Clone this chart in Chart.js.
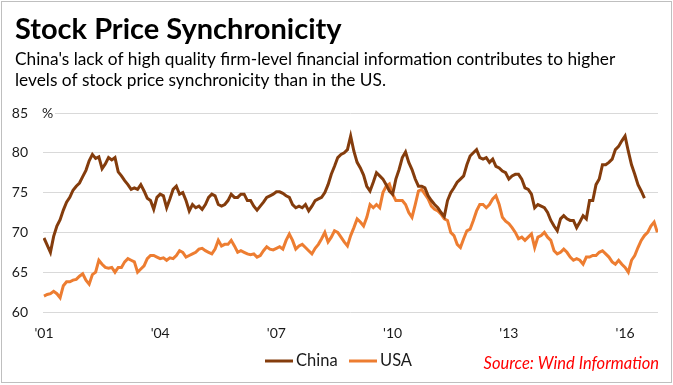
<!DOCTYPE html>
<html>
<head>
<meta charset="utf-8">
<script src="https://cdn.jsdelivr.net/npm/chart.js@4.4.1/dist/chart.umd.min.js"></script>
<style>
  html, body { margin:0; padding:0; background:#fff; }
  canvas { display:block; }
</style>
</head>
<body>
<canvas id="c" width="673" height="385"></canvas>
<script>
/* Stock price synchronicity — China vs USA, monthly, Jan 2001 onward */

// ── Data ──────────────────────────────────────────────────────────────────
const seriesNames = ['China', 'USA'];

// month index 0 = Jan 2001
const xTickMonths = [0, 36, 72, 108, 144, 180];
const xTickLabels = ["'01", "'04", "'07", "'10", "'13", "'16"];
const yTicks = [60, 65, 70, 75, 80, 85];

const china = [
  69.3, 68.4, 67.5, 69.5, 70.8, 71.6, 72.8, 73.8, 74.4, 75.3, 75.8, 76.2,
  77.0, 77.8, 79.0, 79.8, 79.3, 79.5, 78.0, 78.6, 79.4, 79.1, 79.4, 77.6,
  77.1, 76.5, 76.0, 75.4, 75.6, 75.4, 76.0, 75.2, 74.3, 74.0, 72.9, 74.4,
  74.8, 74.6, 73.1, 74.2, 75.4, 75.8, 74.8, 75.0, 74.0, 72.7, 73.5, 73.1,
  73.3, 72.9, 73.5, 74.4, 74.8, 74.6, 73.5, 73.3, 73.5, 74.0, 74.8, 74.4,
  74.4, 74.8, 74.8, 74.0, 74.0, 73.3, 72.8, 73.3, 73.8, 74.4, 74.6, 74.8,
  75.1, 75.1, 74.9, 74.6, 74.4, 73.5, 73.1, 73.3, 73.1, 73.5, 72.7, 73.3,
  74.0, 74.2, 74.4, 75.0, 76.0, 77.3, 78.3, 79.4, 79.8, 80.0, 80.4, 82.1,
  80.2, 78.8, 78.1, 77.2, 75.8, 75.2, 76.3, 77.5, 77.1, 76.7, 76.0, 75.2,
  74.8, 76.7, 77.9, 79.4, 80.1, 78.8, 77.9, 76.7, 75.8, 75.8, 75.6, 74.6,
  74.0, 73.5, 73.1, 72.5, 72.0, 74.0, 75.0, 75.6, 76.3, 76.7, 77.1, 78.5,
  79.6, 80.0, 80.4, 79.4, 79.2, 79.4, 78.8, 79.2, 78.3, 78.1, 77.7, 77.5,
  76.7, 77.1, 77.3, 77.3, 76.7, 75.6, 75.4, 74.8, 73.1, 73.5, 73.3, 73.1,
  72.5, 71.5, 70.8, 70.2, 71.7, 72.1, 71.7, 71.5, 71.5, 70.6, 71.3, 72.1,
  71.7, 74.0, 74.0, 76.0, 76.7, 78.5, 78.5, 78.8, 79.2, 80.4, 80.8, 81.5,
  82.1, 80.2, 78.5, 77.3, 76.0, 75.2, 74.3
];

const usa = [
  62.0, 62.2, 62.3, 62.6, 62.3, 61.8, 63.3, 63.8, 63.8, 64.0, 64.1, 64.5,
  64.8, 64.0, 63.5, 64.7, 65.0, 66.5, 66.0, 65.6, 65.5, 65.6, 65.0, 65.6,
  65.6, 66.3, 66.7, 66.5, 66.3, 65.0, 65.4, 65.8, 66.7, 67.1, 67.1, 66.9,
  66.7, 66.8, 66.5, 66.8, 66.7, 67.1, 67.7, 67.5, 66.9, 67.1, 67.3, 67.5,
  67.9, 68.0, 67.7, 67.5, 67.3, 67.9, 69.0, 68.3, 68.5, 68.5, 69.0, 68.3,
  67.5, 67.7, 67.5, 67.3, 67.2, 67.3, 66.9, 67.1, 67.7, 68.2, 67.9, 67.8,
  68.0, 68.2, 67.9, 69.0, 69.8, 69.0, 67.9, 68.3, 68.5, 68.1, 67.7, 67.3,
  68.0, 68.5, 69.2, 70.0, 68.8, 69.4, 70.2, 70.0, 69.4, 68.8, 68.3, 69.6,
  70.6, 71.7, 71.3, 70.8, 71.9, 73.5, 73.1, 73.5, 73.1, 75.0, 75.8, 76.1,
  74.8, 74.0, 74.0, 74.0, 73.5, 72.5, 71.9, 73.5, 75.2, 75.4, 74.8, 74.2,
  73.3, 72.9, 72.7, 72.3, 71.7, 71.5, 70.0, 69.6, 68.5, 68.1, 69.2, 70.2,
  70.4, 71.5, 72.7, 73.5, 73.5, 73.1, 73.5, 74.2, 74.6, 73.5, 71.9, 71.4,
  71.1, 70.6, 70.0, 69.2, 69.4, 69.0, 69.4, 69.8, 68.1, 69.4, 69.6, 70.0,
  69.4, 69.0, 67.7, 67.3, 67.5, 67.9, 67.5, 66.9, 66.5, 66.7, 66.5, 66.0,
  66.9, 66.9, 67.1, 67.1, 67.5, 67.7, 67.3, 66.9, 66.3, 66.0, 66.5, 66.0,
  65.6, 65.0, 66.5, 67.1, 68.1, 69.0, 69.6, 70.0, 70.8, 71.3, 70.0
];

// ── Look ──────────────────────────────────────────────────────────────────
const COLORS = ['#843C0C', '#ED7D31'];
const FONT = 'Lato, "Open Sans", sans-serif';
const TEXT = '#1a1a1a';

const toPts = arr => arr.map((v, i) => ({x: i, y: v}));

// ── Text, legend, frame ───────────────────────────────────────────────────
const decor = {
  id: 'decor',
  beforeDraw(chart) {
    const ctx = chart.ctx;
    ctx.save();
    ctx.fillStyle = '#fff';
    ctx.fillRect(0, 0, chart.width, chart.height);
    ctx.restore();
  },
  afterDraw(chart) {
    const ctx = chart.ctx;
    ctx.save();
    ctx.textBaseline = 'alphabetic';
    ctx.textAlign = 'left';

    ctx.fillStyle = '#000';
    ctx.font = 'bold 29px ' + FONT;
    ctx.fillText('Stock Price Synchronicity', 15, 39);
    ctx.font = '17.3px ' + FONT;
    ctx.fillText("China's lack of high quality firm-level financial information contributes to higher", 15, 65);
    ctx.fillText('levels of stock price synchronicity than in the US.', 15, 86);

    // "%" unit next to the top tick
    const y85 = chart.scales.y.getPixelForValue(85);
    ctx.fillStyle = '#fff';
    ctx.fillRect(41, y85 - 8, 14, 16);
    ctx.fillStyle = TEXT;
    ctx.font = '14px ' + FONT;
    ctx.textBaseline = 'middle';
    ctx.fillText('%', 42, y85);

    // legend
    ctx.textBaseline = 'alphabetic';
    ctx.font = '16.5px ' + FONT;
    const lg = [[265, 296], [349, 380]];
    chart.data.datasets.forEach((ds, i) => {
      ctx.strokeStyle = ds.borderColor;
      ctx.lineWidth = 3;
      ctx.beginPath();
      ctx.moveTo(lg[i][0], 361);
      ctx.lineTo(lg[i][0] + 28, 361);
      ctx.stroke();
      ctx.fillStyle = TEXT;
      ctx.fillText(ds.label, lg[i][1], 366);
    });

    // source
    ctx.fillStyle = '#ff0000';
    ctx.font = 'italic 16.5px ' + FONT;
    ctx.textAlign = 'right';
    ctx.fillText('Source: Wind Information', 659, 369);

    // frame
    ctx.strokeStyle = '#bfbfbf';
    ctx.lineWidth = 1;
    ctx.strokeRect(1.5, 1.5, 670, 381);
    ctx.restore();
  }
};

// ── Chart ─────────────────────────────────────────────────────────────────
new Chart(document.getElementById('c'), {
  type: 'line',
  data: {
    datasets: [china, usa].map((arr, i) => ({
      label: seriesNames[i],
      data: toPts(arr),
      borderColor: COLORS[i],
      backgroundColor: COLORS[i],
      borderWidth: 3,
      pointRadius: 0,
      tension: 0
    }))
  },
  options: {
    responsive: false,
    animation: false,
    devicePixelRatio: 1,
    layout: {padding: {top: 113, right: 15, bottom: 0, left: 0}},
    plugins: {legend: {display: false}, tooltip: {enabled: false}},
    scales: {
      x: {
        type: 'linear', min: -0.3, max: 190.2,
        grid: {display: false},
        border: {display: false},
        afterFit: s => { s.height = 73; },
        afterBuildTicks: s => { s.ticks = xTickMonths.map(v => ({value: v})); },
        ticks: {
          padding: 5, color: TEXT, font: {family: FONT, size: 14},
          maxRotation: 0, autoSkip: false,
          callback: v => xTickLabels[xTickMonths.indexOf(v)]
        }
      },
      y: {
        min: 60, max: 85,
        grid: {color: '#d9d9d9', lineWidth: 1, drawTicks: false},
        border: {display: false},
        afterFit: s => { s.width = 43; },
        afterBuildTicks: s => { s.ticks = yTicks.map(v => ({value: v})); },
        ticks: {padding: 15, color: TEXT, font: {family: FONT, size: 14}}
      }
    }
  },
  plugins: [decor]
});
</script>
</body>
</html>
